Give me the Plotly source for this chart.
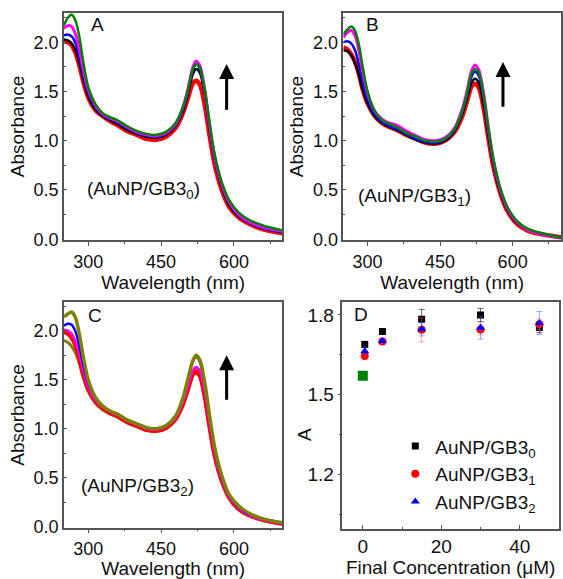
import plotly.graph_objects as go

FONT = "Liberation Sans, Arial, sans-serif"

# ---------------- Spectra data ----------------
wl = [250, 258, 266, 274, 282, 290, 300, 315, 330, 345, 360, 380, 400, 420, 440, 460,
      480, 495, 505, 515, 522, 530, 540, 550, 560, 575, 590, 610, 630, 660, 700]

# Panel A (AuNP/GB3_0)
A_red = [2.01, 2.00, 1.97, 1.89, 1.76, 1.60, 1.44, 1.31, 1.25, 1.20, 1.16, 1.10, 1.06, 1.02, 1.01, 1.04,
         1.13, 1.28, 1.43, 1.58, 1.61, 1.57, 1.36, 1.05, 0.77, 0.50, 0.33, 0.22, 0.16, 0.10, 0.06]
A_black = [2.03, 2.02, 1.99, 1.92, 1.79, 1.62, 1.46, 1.32, 1.25, 1.21, 1.17, 1.11, 1.07, 1.04, 1.03, 1.06,
           1.15, 1.30, 1.47, 1.67, 1.73, 1.69, 1.47, 1.12, 0.82, 0.53, 0.35, 0.23, 0.17, 0.11, 0.07]
A_blue = [2.07, 2.08, 2.06, 1.99, 1.85, 1.67, 1.49, 1.34, 1.26, 1.22, 1.19, 1.13, 1.08, 1.05, 1.04, 1.07,
          1.16, 1.32, 1.50, 1.71, 1.78, 1.73, 1.49, 1.13, 0.83, 0.55, 0.37, 0.24, 0.17, 0.11, 0.07]
A_magenta = [2.14, 2.17, 2.16, 2.08, 1.92, 1.72, 1.52, 1.36, 1.27, 1.23, 1.20, 1.14, 1.09, 1.06, 1.05, 1.08,
             1.17, 1.34, 1.52, 1.74, 1.81, 1.76, 1.52, 1.16, 0.85, 0.56, 0.38, 0.25, 0.18, 0.12, 0.08]
A_green = [2.17, 2.25, 2.28, 2.22, 2.05, 1.80, 1.55, 1.37, 1.28, 1.24, 1.21, 1.15, 1.10, 1.07, 1.06, 1.09,
           1.18, 1.34, 1.51, 1.72, 1.78, 1.74, 1.52, 1.18, 0.87, 0.58, 0.40, 0.27, 0.20, 0.14, 0.09]

# Panel B (AuNP/GB3_1)
B_red = [1.95, 1.93, 1.88, 1.80, 1.68, 1.52, 1.38, 1.25, 1.18, 1.14, 1.11, 1.06, 1.02, 0.98, 0.97, 1.00,
         1.09, 1.24, 1.39, 1.55, 1.58, 1.54, 1.33, 1.02, 0.74, 0.46, 0.28, 0.15, 0.09, 0.05, 0.02]
B_black = [1.92, 1.91, 1.87, 1.79, 1.67, 1.52, 1.38, 1.25, 1.18, 1.14, 1.11, 1.06, 1.01, 0.98, 0.97, 1.00,
           1.10, 1.26, 1.42, 1.59, 1.63, 1.59, 1.37, 1.05, 0.76, 0.47, 0.29, 0.16, 0.10, 0.05, 0.02]
B_blue = [2.00, 2.01, 1.99, 1.92, 1.78, 1.60, 1.42, 1.27, 1.19, 1.15, 1.12, 1.07, 1.02, 0.99, 0.98, 1.01,
          1.11, 1.28, 1.45, 1.65, 1.70, 1.66, 1.43, 1.09, 0.79, 0.49, 0.30, 0.17, 0.10, 0.05, 0.02]
B_magenta = [2.05, 2.10, 2.12, 2.07, 1.92, 1.70, 1.48, 1.30, 1.22, 1.18, 1.16, 1.10, 1.05, 1.01, 1.00, 1.03,
             1.13, 1.31, 1.49, 1.71, 1.77, 1.72, 1.48, 1.13, 0.81, 0.50, 0.31, 0.17, 0.10, 0.05, 0.02]
B_green = [2.08, 2.13, 2.16, 2.12, 1.98, 1.75, 1.50, 1.30, 1.21, 1.17, 1.14, 1.08, 1.04, 1.00, 0.99, 1.02,
           1.12, 1.29, 1.47, 1.68, 1.73, 1.69, 1.46, 1.12, 0.82, 0.51, 0.32, 0.18, 0.11, 0.06, 0.02]

# Panel C (AuNP/GB3_2)
C_red = [1.99, 1.97, 1.93, 1.85, 1.72, 1.56, 1.41, 1.28, 1.21, 1.16, 1.13, 1.07, 1.03, 0.99, 0.98, 1.01,
         1.10, 1.25, 1.40, 1.55, 1.58, 1.54, 1.33, 1.02, 0.74, 0.47, 0.30, 0.18, 0.12, 0.07, 0.03]
C_olive2 = [1.90, 1.88, 1.84, 1.77, 1.66, 1.52, 1.38, 1.26, 1.19, 1.15, 1.12, 1.06, 1.02, 0.98, 0.97, 1.00,
            1.10, 1.26, 1.42, 1.58, 1.62, 1.58, 1.37, 1.05, 0.76, 0.48, 0.31, 0.19, 0.12, 0.07, 0.03]
C_magenta = [2.01, 2.00, 1.97, 1.89, 1.76, 1.59, 1.43, 1.29, 1.22, 1.17, 1.14, 1.08, 1.04, 1.00, 0.99, 1.02,
             1.11, 1.27, 1.43, 1.59, 1.63, 1.59, 1.38, 1.06, 0.77, 0.48, 0.31, 0.19, 0.12, 0.07, 0.03]
C_blue = [2.05, 2.07, 2.06, 1.99, 1.84, 1.65, 1.47, 1.31, 1.23, 1.18, 1.15, 1.09, 1.05, 1.01, 1.00, 1.03,
          1.13, 1.31, 1.49, 1.68, 1.73, 1.68, 1.45, 1.11, 0.80, 0.50, 0.32, 0.20, 0.13, 0.08, 0.04]
C_olive = [2.14, 2.17, 2.19, 2.13, 1.96, 1.73, 1.50, 1.32, 1.23, 1.18, 1.15, 1.09, 1.05, 1.01, 1.00, 1.03,
           1.13, 1.31, 1.50, 1.69, 1.75, 1.70, 1.47, 1.13, 0.82, 0.52, 0.33, 0.21, 0.14, 0.08, 0.04]

# ---------------- Panel D data ----------------
conc = [0.5, 5, 15, 30, 45]
D_gb30 = [1.689, 1.738, 1.784, 1.800, 1.753]
D_gb30_err = [0.012, 0.008, 0.037, 0.025, 0.02]
D_gb31 = [1.646, 1.700, 1.744, 1.745, 1.765]
D_gb31_err = [0.015, 0.010, 0.045, 0.02, 0.02]
D_gb32 = [1.664, 1.702, 1.746, 1.752, 1.770]
D_gb32_err = [0.015, 0.010, 0.025, 0.043, 0.043]
D_ctrl_x = [0]
D_ctrl_y = [1.571]

panel_labels = ["A", "B", "C", "D"]
sample_names = ["(AuNP/GB3<sub>0</sub>)", "(AuNP/GB3<sub>1</sub>)", "(AuNP/GB3<sub>2</sub>)"]
legend_names = ["AuNP/GB3<sub>0</sub>", "AuNP/GB3<sub>1</sub>", "AuNP/GB3<sub>2</sub>"]

GREEN = "#008000"
MAGENTA = "#ff00ff"
BLUE = "#0000ff"
BLACK = "#000000"
RED = "#ff0000"
OLIVE = "#808000"

fig = go.Figure()

panels = [
    ("x", "y", [(A_red, RED, 4.5), (A_black, BLACK, 2.5), (A_blue, BLUE, 2.5), (A_magenta, MAGENTA, 3), (A_green, GREEN, 2.5)]),
    ("x2", "y2", [(B_red, RED, 4.5), (B_black, BLACK, 2.5), (B_blue, BLUE, 2.5), (B_magenta, MAGENTA, 3), (B_green, GREEN, 2.5)]),
    ("x3", "y3", [(C_olive2, OLIVE, 3), (C_red, RED, 4.5), (C_magenta, MAGENTA, 2.5), (C_blue, BLUE, 2.5), (C_olive, OLIVE, 3.5)]),
]
for xa, ya, curves in panels:
    for vals, col, w in curves:
        fig.add_trace(go.Scatter(x=wl, y=vals, mode="lines", line=dict(color=col, width=w, shape="spline", smoothing=0.8),
                                 xaxis=xa, yaxis=ya, showlegend=False, hoverinfo="skip"))

# Panel D
fig.add_trace(go.Scatter(x=D_ctrl_x, y=D_ctrl_y, mode="markers", marker=dict(symbol="square", size=10, color=GREEN),
                         xaxis="x4", yaxis="y4", showlegend=False))
fig.add_trace(go.Scatter(x=conc, y=D_gb30, mode="markers", name=legend_names[0], legendgroup="g0",
                         marker=dict(symbol="square", size=7, color=BLACK),
                         error_y=dict(type="data", array=D_gb30_err, color="rgba(60,60,60,0.8)", thickness=1, width=3),
                         xaxis="x4", yaxis="y4"))
fig.add_trace(go.Scatter(x=conc, y=D_gb31, mode="markers", name=legend_names[1], legendgroup="g1",
                         marker=dict(symbol="circle", size=8, color=RED),
                         error_y=dict(type="data", array=D_gb31_err, color="rgba(255,80,80,0.5)", thickness=1, width=3),
                         xaxis="x4", yaxis="y4"))
fig.add_trace(go.Scatter(x=conc, y=D_gb32, mode="markers", name=legend_names[2], legendgroup="g2",
                         marker=dict(symbol="triangle-up", size=8, color=BLUE),
                         error_y=dict(type="data", array=D_gb32_err, color="rgba(80,80,255,0.5)", thickness=1, width=3),
                         xaxis="x4", yaxis="y4"))

W, H = 563, 579
def fx(p):
    return p / W
def fy(p):
    return 1 - p / H

axcol = "#555555"
tickfont = dict(family=FONT, size=18, color="#111")
tickfontD = dict(family=FONT, size=19, color="#111")
titlefont = dict(family=FONT, size=19, color="#111")

def xax(dom, anchor, rng, tickvals, title, minor_dtick, tf=tickfont, ticks="outside"):
    return dict(domain=dom, anchor=anchor, range=rng, tickvals=tickvals, showgrid=False, zeroline=False,
                showline=True, mirror=True, linecolor=axcol, linewidth=1.5, ticks=ticks, ticklen=4,
                tickcolor=axcol, tickfont=tf, title=dict(text=title, font=titlefont, standoff=0),
                minor=dict(dtick=minor_dtick, ticks=ticks, ticklen=2, tickcolor=axcol))

def yax(dom, anchor, rng, dtick, title, tickformat, minor_dtick, tick0=0, tf=tickfont, ticks="inside", standoff=4):
    return dict(domain=dom, anchor=anchor, range=rng, dtick=dtick, tick0=tick0, showgrid=False, zeroline=False,
                showline=True, mirror=True, linecolor=axcol, linewidth=1.5, ticks=ticks, ticklen=3,
                tickcolor=axcol, tickfont=tf, tickformat=tickformat,
                title=dict(text=title, font=titlefont, standoff=standoff),
                minor=dict(dtick=minor_dtick, tick0=tick0, ticks=ticks, ticklen=2, tickcolor=axcol))

xL = [fx(64), fx(283)]
xR = [fx(344), fx(562)]
yT = [fy(244), fy(13)]
yB = [fy(536), fy(307)]

fig.update_layout(
    width=W, height=H, margin=dict(l=0, r=0, t=0, b=0),
    paper_bgcolor="white", plot_bgcolor="white",
    font=dict(family=FONT, color="#111"),
    xaxis=xax(xL, "y", [250, 700], [300, 450, 600], "Wavelength (nm)", 75),
    yaxis=yax(yT, "x", [-0.01, 2.3], 0.5, "Absorbance", ".1f", 0.25),
    xaxis2=xax(xR, "y2", [250, 700], [300, 450, 600], "Wavelength (nm)", 75),
    yaxis2=yax(yT, "x2", [-0.01, 2.3], 0.5, "Absorbance", ".1f", 0.25),
    xaxis3=xax(xL, "y3", [250, 700], [300, 450, 600], "Wavelength (nm)", 75),
    yaxis3=yax(yB, "x3", [-0.01, 2.29], 0.5, "Absorbance", ".1f", 0.25),
    xaxis4=xax([fx(343), fx(560)], "y4", [-5.2, 50], [0, 20, 40], "Final Concentration (\u03bcM)", 10,
               tf=tickfontD, ticks="inside"),
    yaxis4=yax([fy(537), fy(307)], "x4", [0.996, 1.848], 0.3, "", ".1f", 0.15, tick0=1.2,
               tf=tickfontD, ticks="outside"),
    legend=dict(x=fx(396), y=fy(434), xanchor="left", yanchor="top", bgcolor="rgba(0,0,0,0)",
                font=dict(family=FONT, size=19, color="#111"), itemsizing="trace", tracegroupgap=0),
)

annotations = []
# panel D y-axis title
annotations.append(dict(text="A", x=fx(305), y=1.35, xref="paper", yref="y4", textangle=-90,
                        xanchor="center", yanchor="middle", showarrow=False, font=titlefont))
# panel letters
for lab, xa, ya, xv, yv in [("A", "x", "y", 302, 2.18), ("B", "x2", "y2", 292, 2.18), ("C", "x3", "y3", 296, 2.15), ("D", "x4", "y4", -2.8, 1.80)]:
    annotations.append(dict(text=lab, x=xv, y=yv, xref=xa, yref=ya, xanchor="left", yanchor="middle",
                            showarrow=False, font=dict(family=FONT, size=19, color="#111")))
# sample names
for name, xa, ya, xv, yv in zip(sample_names, ["x", "x2", "x3"], ["y", "y2", "y3"], [293, 277, 282], [0.5, 0.43, 0.40]):
    annotations.append(dict(text=name, x=xv, y=yv, xref=xa, yref=ya, xanchor="left", yanchor="middle",
                            showarrow=False, font=dict(family=FONT, size=19, color="#111")))
# arrows
for xa, ya, xv, y0, y1 in [("x", "y", 585, 1.30, 1.78), ("x2", "y2", 580, 1.33, 1.80), ("x3", "y3", 585, 1.28, 1.75)]:
    annotations.append(dict(x=xv, y=y1, ax=xv, ay=y0, xref=xa, yref=ya, axref=xa, ayref=ya, text="",
                            showarrow=True, arrowhead=2, arrowsize=1, arrowwidth=3, arrowcolor="black"))
fig.update_layout(annotations=annotations)

fig.write_html("out.html")
